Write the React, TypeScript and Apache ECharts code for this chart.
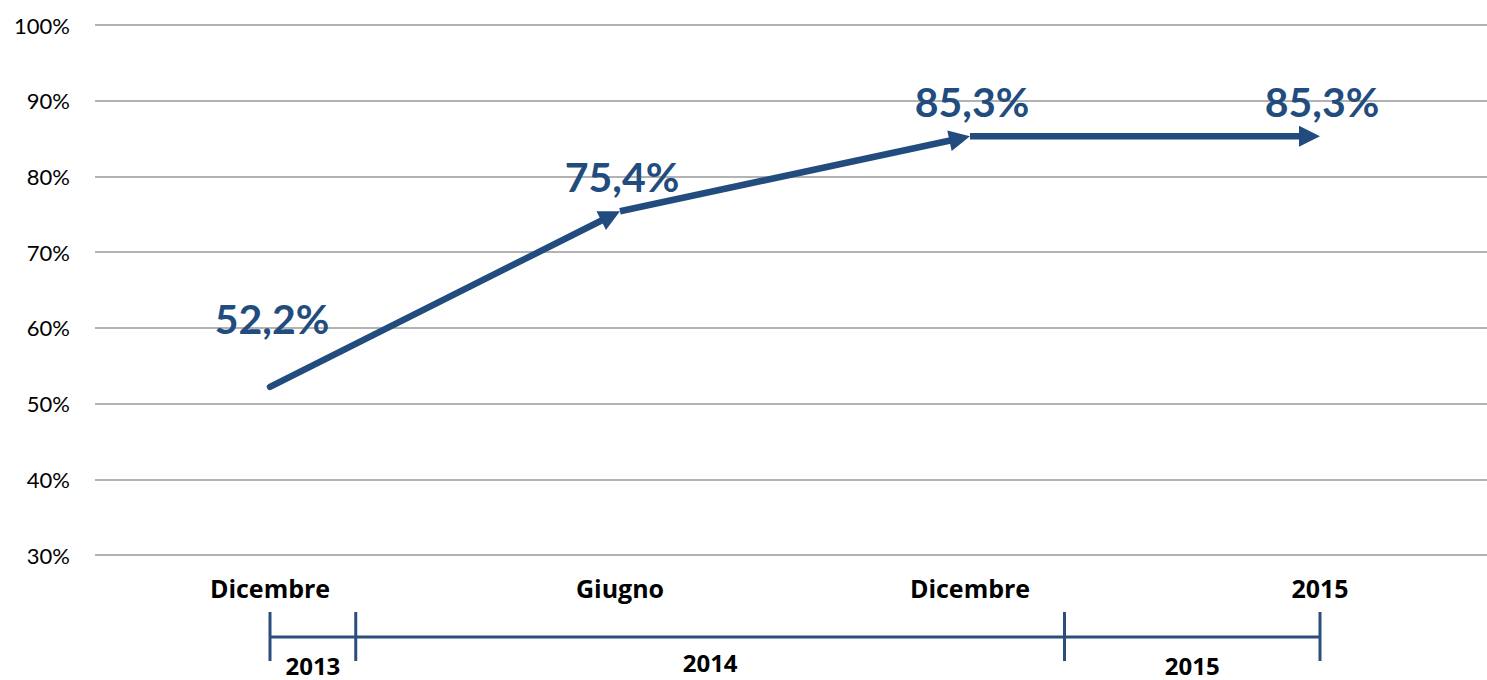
import React, { useEffect, useRef } from "react";
import * as echarts from "echarts";

const categories = ["Dicembre", "Giugno", "Dicembre", "2015"];
const values = [52.2, 75.4, 85.3, 85.3];
const yTicks = { min: 30, max: 100, interval: 10 };
// timeline boundaries expressed as positions along the category axis
const timelineBounds = [0, 0.245, 2.27, 3];
const timelineYears = ["2013", "2014", "2015"];

const BLUE = "#214C7D";
const FONT = "Lato, 'Open Sans', sans-serif";
const AXFONT = "'Open Sans', Lato, sans-serif";

export default function App() {
  const ref = useRef<HTMLDivElement>(null);

  useEffect(() => {
    document.body.style.margin = "0";
    const chart = echarts.init(ref.current!, null, { renderer: "svg" });

    const segData = values.map((v, i) => [i, v, i > 0 ? values[i - 1] : v]);

    chart.setOption({
      animation: false,
      grid: { left: 95, right: 2, top: 25, bottom: 125 },
      xAxis: [
        {
          type: "category",
          data: categories,
          boundaryGap: true,
          axisLine: { show: false },
          axisTick: { show: false },
          axisLabel: {
            color: "#000",
            fontFamily: AXFONT,
            fontWeight: "bold",
            fontSize: 25,
            margin: 20,
            interval: 0,
          },
        },
        { type: "value", min: -0.5, max: 3.5, show: false },
      ],
      yAxis: {
        type: "value",
        min: yTicks.min,
        max: yTicks.max,
        interval: yTicks.interval,
        axisLine: { show: false },
        axisTick: { show: false },
        axisLabel: {
          formatter: "{value}%",
          color: "#000",
          fontFamily: FONT,
          fontSize: 22,
          margin: 25,
        },
        splitLine: { lineStyle: { color: "#9a9a9a", width: 1.5 } },
      },
      series: [
        {
          type: "custom",
          data: segData,
          encode: { x: 0, y: 1 },
          renderItem: (params: any, api: any) => {
            const i = api.value(0);
            if (i === 0) return { type: "group", children: [] };
            const p0 = api.coord([i - 1, api.value(2)]);
            const p1 = api.coord([i, api.value(1)]);
            const dx = p1[0] - p0[0];
            const dy = p1[1] - p0[1];
            const len = Math.sqrt(dx * dx + dy * dy);
            const ux = dx / len;
            const uy = dy / len;
            const head = 21;
            const half = 10.5;
            const bx = p1[0] - ux * head;
            const by = p1[1] - uy * head;
            return {
              type: "group",
              children: [
                {
                  type: "line",
                  shape: { x1: p0[0], y1: p0[1], x2: bx + ux * 2, y2: by + uy * 2 },
                  style: { stroke: BLUE, lineWidth: 6.5, lineCap: i === 1 ? "round" : "butt" },
                },
                {
                  type: "polygon",
                  shape: {
                    points: [
                      [p1[0], p1[1]],
                      [bx - uy * half, by + ux * half],
                      [bx + uy * half, by - ux * half],
                    ],
                  },
                  style: { fill: BLUE },
                },
              ],
            };
          },
        },
        {
          type: "scatter",
          symbolSize: 0,
          itemStyle: { opacity: 1 },
          data: values.map((v, i) => ({
            value: [i, v],
            label: i === 0 ? { distance: 48, offset: [2, 0] } : { distance: 14, offset: [2, 0] },
          })),
          label: {
            show: true,
            position: "top",
            color: BLUE,
            opacity: 1,
            fontFamily: FONT,
            fontWeight: "bold",
            fontSize: 41,
            formatter: (p: any) => p.value[1].toFixed(1).replace(".", ",") + "%",
          },
        },
      ],
    });

    const px = (v: number) => chart.convertToPixel({ xAxisIndex: 1 }, v) as number;
    const lineY = 637;
    const xs = timelineBounds.map(px);
    const graphics: any[] = [
      {
        type: "line",
        shape: { x1: xs[0], y1: lineY, x2: xs[xs.length - 1], y2: lineY },
        style: { stroke: "#2B4E7C", lineWidth: 3 },
      },
      ...xs.map((x) => ({
        type: "line",
        shape: { x1: x, y1: 612, x2: x, y2: 661 },
        style: { stroke: "#2B4E7C", lineWidth: 3 },
      })),
      ...timelineYears.map((t, k) => ({
        type: "text",
        x: (xs[k] + xs[k + 1]) / 2,
        y: k === 1 ? 662 : 665,
        style: {
          text: t,
          fill: "#000",
          font: `bold 24px ${AXFONT}`,
          align: "center",
          verticalAlign: "middle",
        },
      })),
    ];
    chart.setOption({ graphic: graphics });

    return () => chart.dispose();
  }, []);

  return (
    <div style={{ width: 1487, height: 680, overflow: "hidden", position: "relative" }}>
      <div ref={ref} style={{ width: 1497, height: 680 }} />
    </div>
  );
}
